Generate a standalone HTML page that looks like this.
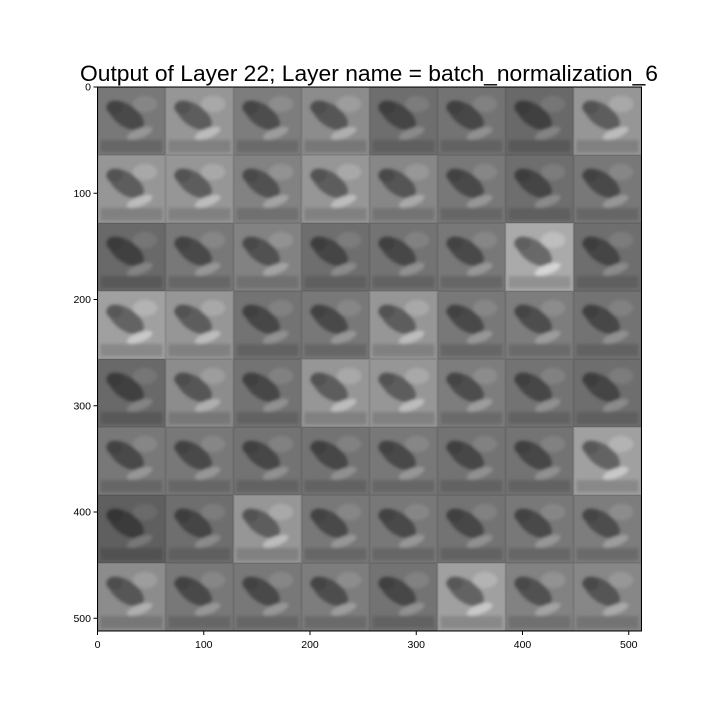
<!DOCTYPE html>
<html><head><meta charset="utf-8"><style>
body{margin:0;background:#fff;}
svg{display:block;font-family:"Liberation Sans","DejaVu Sans",sans-serif;}
</style></head><body>
<svg id="chart" width="720" height="720" viewBox="0 0 720 720">
<defs><filter id="bl" x="-10%" y="-10%" width="120%" height="120%"><feGaussianBlur stdDeviation="1.6"/></filter>
<clipPath id="plotclip"><rect x="97.5" y="87" width="544" height="544"/></clipPath></defs>
<text x="369" y="81" font-size="22" text-anchor="middle" fill="#000" textLength="578" lengthAdjust="spacingAndGlyphs">Output of Layer 22; Layer name = batch_normalization_6</text>
<g id="tiles" clip-path="url(#plotclip)"></g>
<rect x="97.5" y="87" width="544" height="544" fill="none" stroke="#000" stroke-width="1"/>
<g id="xticks"></g>
<g id="yticks"></g>
</svg>
<script>
const tickValues = [0, 100, 200, 300, 400, 500];
const gridSize = 8;
const tileUnits = 64;
const tileGray = [
  [120,150,125,140,110,115,105,150],
  [150,150,130,150,135,120,110,120],
  [105,120,130,110,115,120,170,110],
  [160,150,115,120,150,120,125,115],
  [105,140,115,150,150,125,115,110],
  [120,120,115,115,120,115,115,160],
  [95,110,150,120,120,115,120,125],
  [140,120,120,125,115,160,130,135]
];
const ns = "http://www.w3.org/2000/svg";
const x0 = 97.5, y0 = 87, scale = 544/512;
const sx = v => x0 + v*scale;
const sy = v => y0 + v*scale;
const g = c => `rgb(${c},${c},${c})`;
const clamp = c => Math.max(0, Math.min(255, Math.round(c)));
const tiles = document.getElementById('tiles');
function mk(tag, attrs, parent){ const e=document.createElementNS(ns,tag); for(const k in attrs) e.setAttribute(k,attrs[k]); parent.appendChild(e); return e; }
for (let r=0;r<gridSize;r++){
  for (let c=0;c<gridSize;c++){
    const v = tileGray[r][c];
    const tx = sx(c*tileUnits), ty = sy(r*tileUnits), w = tileUnits*scale;
    const grp = document.createElementNS(ns,'g');
    
    
    tiles.appendChild(grp);
    mk('rect',{x:tx,y:ty,width:w,height:w,fill:g(v)},grp);
    const inner = mk('g',{filter:'url(#bl)'},grp);
    mk('rect',{x:tx+3,y:ty+w*0.78,width:w-6,height:w*0.18,fill:g(clamp(v*0.85))},inner);
    mk('ellipse',{cx:tx+w*0.42,cy:ty+w*0.42,rx:w*0.3,ry:w*0.16,transform:`rotate(35 ${tx+w*0.42} ${ty+w*0.42})`,fill:g(clamp(v*0.62))},inner);
    mk('ellipse',{cx:tx+w*0.25,cy:ty+w*0.3,rx:w*0.12,ry:w*0.1,fill:g(clamp(v*0.55))},inner);
    mk('ellipse',{cx:tx+w*0.62,cy:ty+w*0.68,rx:w*0.2,ry:w*0.07,transform:`rotate(-20 ${tx+w*0.62} ${ty+w*0.68})`,fill:g(clamp(v*1.25))},inner);
    mk('ellipse',{cx:tx+w*0.7,cy:ty+w*0.25,rx:w*0.18,ry:w*0.12,fill:g(clamp(v*1.12))},inner);
    mk('rect',{x:tx+0.5,y:ty+0.5,width:w-1,height:w-1,fill:'none',stroke:g(clamp(v*0.9)),'stroke-width':1},grp);
  }
}
const xt = document.getElementById('xticks'), yt = document.getElementById('yticks');
tickValues.forEach(t=>{
  const x = sx(t);
  const l = mk('line',{x1:x,x2:x,y1:631,y2:635,stroke:'#000'},xt);
  
  
  const tx = mk('text',{x:x,y:648,'font-size':10.5,'text-anchor':'middle'},xt);
  tx.textContent = t;
  
  
  const y = sy(t);
  const l2 = mk('line',{x1:93.5,x2:97.5,y1:y,y2:y,stroke:'#000'},yt);
  
  
  const ty = mk('text',{x:91,y:y+3.5,'font-size':10.5,'text-anchor':'end'},yt);
  ty.textContent = t;
  
  
});
</script>
</body></html>
